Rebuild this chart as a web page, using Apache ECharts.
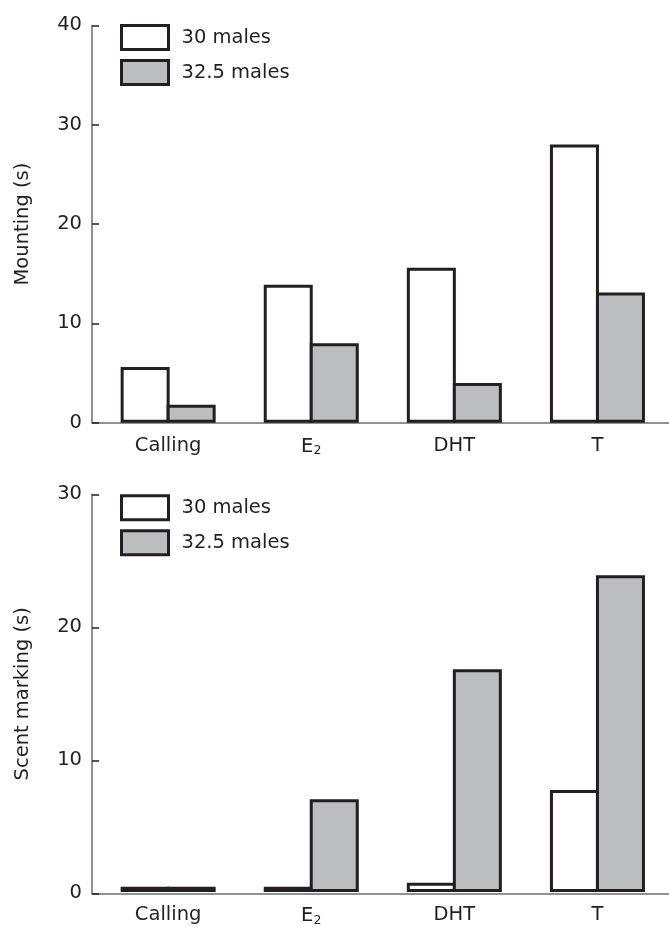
<!DOCTYPE html>
<html>
<head>
<meta charset="utf-8">
<script src="https://cdn.jsdelivr.net/npm/echarts@6/dist/echarts.min.js"></script>
<style>
html,body{margin:0;padding:0;background:#fff;}
#chart{width:669px;height:927px;}
</style>
</head>
<body>
<div id="chart"></div>
<script>
// ---- data ----
const categories = ['Calling', 'E2', 'DHT', 'T'];
const seriesNames = ['30 males', '32.5 males'];
const mounting30 = [5.6, 13.9, 15.6, 28.0];
const mounting325 = [1.8, 8.0, 4.0, 13.1];
const scent30 = [0.4, 0.4, 0.7, 7.7];
const scent325 = [0.4, 7.0, 16.8, 23.9];
const mountingTicks = { min: 0, max: 40, interval: 10 };
const scentTicks = { min: 0, max: 30, interval: 10 };
const yNames = ['Mounting (s)', 'Scent marking (s)'];

// ---- style ----
const FONT = 'DejaVu Sans, Verdana, sans-serif';
const INK = '#231f20';
const AXIS = '#6d6e71';
const GRAY = '#bcbdc1';
const FS = 19.5;

const panels = [
  { top: 25.4, height: 397.3, ticks: mountingTicks, name: yNames[0], d30: mounting30, d325: mounting325, legendTop: 24 },
  { top: 494.3, height: 399, ticks: scentTicks, name: yNames[1], d30: scent30, d325: scent325, legendTop: 494.3 }
];

const grid = [], xAxis = [], yAxis = [], series = [], legend = [];
panels.forEach((p, i) => {
  const gAxes = grid.length;
  grid.push({ left: 92, top: p.top, width: 580, height: p.height });
  const gBars = grid.length;
  grid.push({ left: 96.6, top: p.top, width: 573.4, height: p.height });

  xAxis.push({
    gridIndex: gAxes, type: 'value', min: 0, max: 1,
    axisLine: { show: true, onZero: false, lineStyle: { color: AXIS, width: 1.5 } },
    axisTick: { show: false }, axisLabel: { show: false }, splitLine: { show: false }
  });
  yAxis.push({
    gridIndex: gAxes, type: 'value', min: p.ticks.min, max: p.ticks.max, interval: p.ticks.interval,
    name: p.name, nameLocation: 'middle', nameGap: 59,
    nameTextStyle: { fontFamily: FONT, fontSize: FS, color: INK },
    axisLine: { show: true, lineStyle: { color: AXIS, width: 1.5 } },
    axisTick: { show: true, inside: true, length: 7, lineStyle: { color: INK, width: 1.5 } },
    axisLabel: { fontFamily: FONT, fontSize: FS, color: INK, margin: 10 },
    splitLine: { show: false }
  });

  const xb = xAxis.length;
  xAxis.push({
    gridIndex: gBars, type: 'category', data: categories,
    axisLine: { show: false }, axisTick: { show: false },
    axisLabel: {
      margin: 13, fontFamily: FONT, fontSize: FS, color: INK,
      formatter: v => v === 'E2' ? 'E{sub|2}' : v,
      rich: { sub: { fontFamily: FONT, fontSize: 12.5, color: INK, verticalAlign: 'bottom', padding: [9, 0, 0, 0] } }
    }
  });
  const yb = yAxis.length;
  yAxis.push({
    gridIndex: gBars, type: 'value', min: p.ticks.min, max: p.ticks.max, interval: p.ticks.interval, show: false
  });

  series.push({
    name: seriesNames[0], type: 'bar', xAxisIndex: xb, yAxisIndex: yb, data: p.d30,
    barWidth: 49, barGap: '-6.1%', clip: false,
    itemStyle: { color: '#ffffff', borderColor: INK, borderWidth: 3 }
  });
  series.push({
    name: seriesNames[1], type: 'bar', xAxisIndex: xb, yAxisIndex: yb, data: p.d325,
    barWidth: 49, barGap: '-6.1%', clip: false,
    itemStyle: { color: GRAY, borderColor: INK, borderWidth: 3 }
  });

  legend.push({
    orient: 'vertical', left: 120, top: p.legendTop, padding: 0,
    itemWidth: 47, itemHeight: 24, itemGap: 8, icon: 'rect',
    selectedMode: false,
    data: [
      { name: seriesNames[0], itemStyle: { color: '#ffffff', borderColor: INK, borderWidth: 3 } },
      { name: seriesNames[1], itemStyle: { color: GRAY, borderColor: INK, borderWidth: 3 } }
    ],
    textStyle: { fontFamily: FONT, fontSize: FS, color: INK, padding: [0, 0, 0, 8] }
  });
});

const chart = echarts.init(document.getElementById('chart'), null, { renderer: 'canvas' });
chart.setOption({
  animation: false,
  backgroundColor: '#ffffff',
  grid, xAxis, yAxis, series, legend
});
</script>
</body>
</html>
